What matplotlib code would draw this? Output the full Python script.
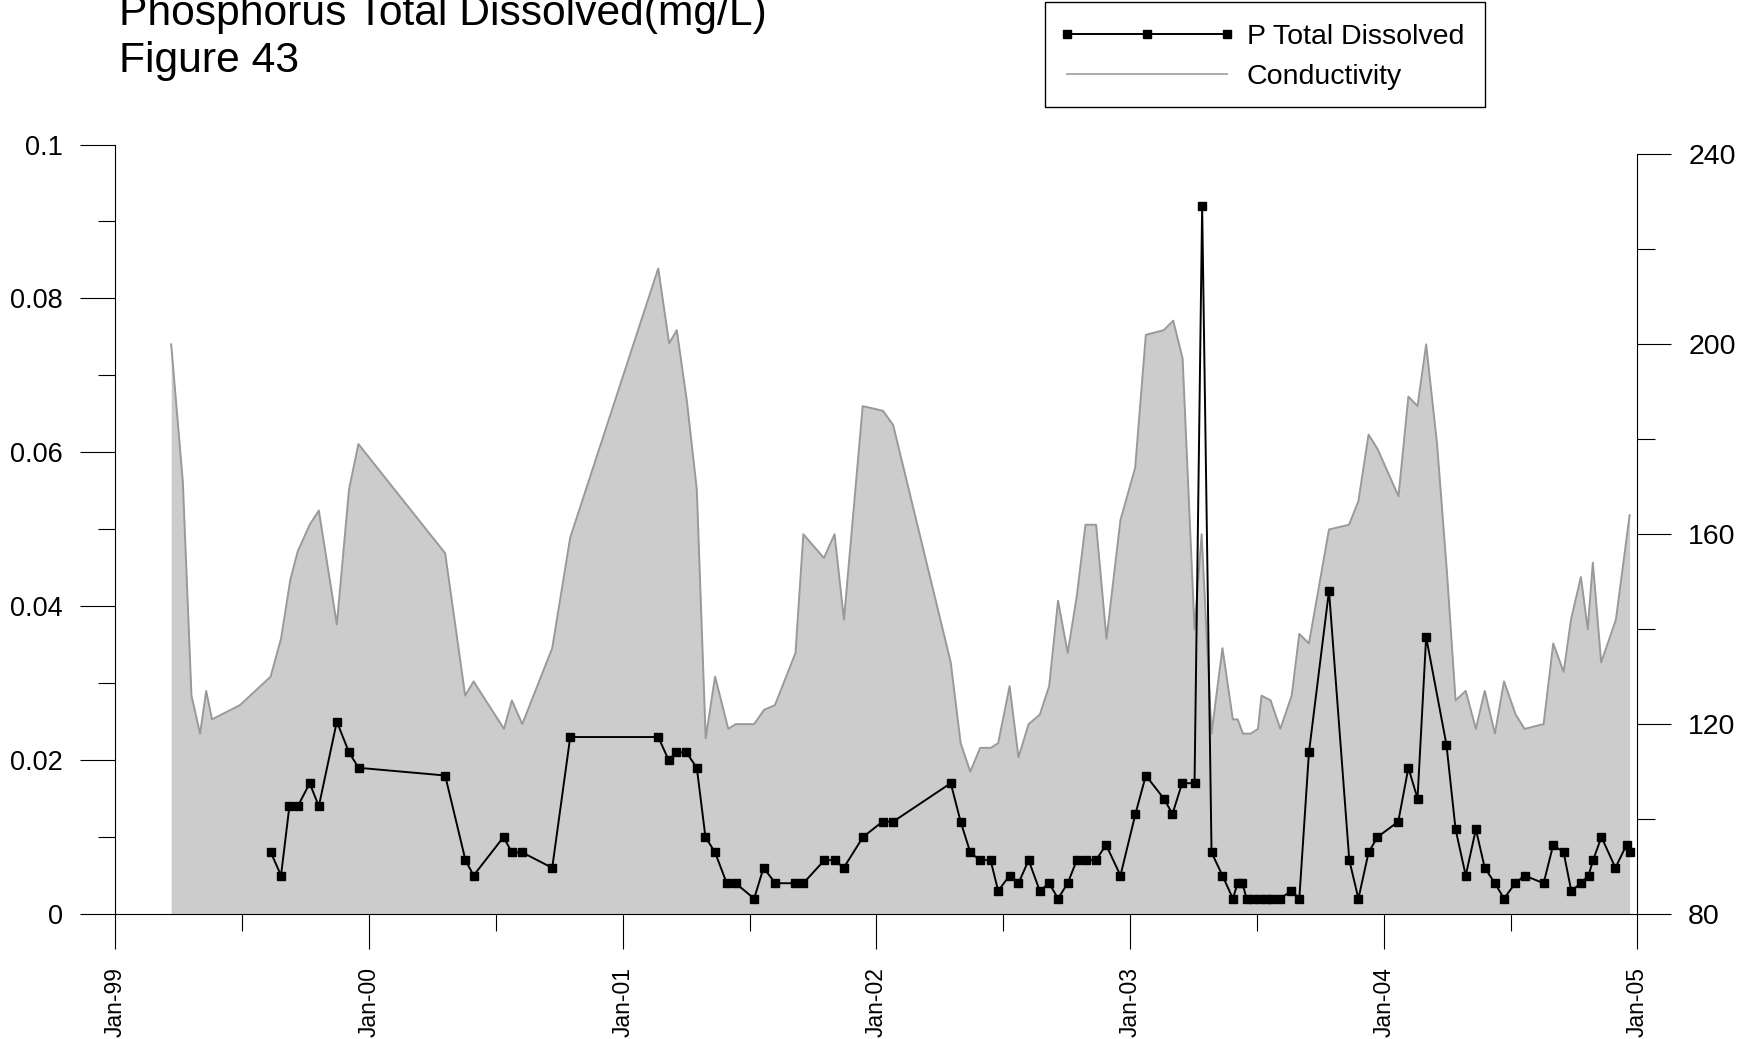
import numpy as np
import matplotlib
matplotlib.use("Agg")
import matplotlib.pyplot as plt
from matplotlib.lines import Line2D
from matplotlib.patches import Rectangle

plt.rcParams['font.family'] = ['Liberation Sans', 'DejaVu Sans']

# conductivity (right axis), dates as decimal years
cond_t = [1999.22, 1999.266, 1999.30, 1999.334, 1999.358, 1999.381, 1999.491, 1999.612,
          1999.653, 1999.69, 1999.719, 1999.766, 1999.802, 1999.873, 1999.921, 1999.958,
          2000.30, 2000.379, 2000.412, 2000.532, 2000.563, 2000.604, 2000.722, 2000.793,
          2001.14, 2001.183, 2001.213, 2001.253, 2001.292, 2001.327, 2001.364, 2001.416,
          2001.445, 2001.518, 2001.557, 2001.60, 2001.681, 2001.712, 2001.793, 2001.835,
          2001.872, 2001.946, 2002.026, 2002.066, 2002.293, 2002.332, 2002.37, 2002.409,
          2002.451, 2002.48, 2002.525, 2002.56, 2002.60, 2002.644, 2002.681, 2002.716,
          2002.754, 2002.79, 2002.824, 2002.866, 2002.907, 2002.962, 2003.02, 2003.062,
          2003.133, 2003.17, 2003.207, 2003.254, 2003.282, 2003.321, 2003.364, 2003.405,
          2003.424, 2003.445, 2003.476, 2003.504, 2003.518, 2003.554, 2003.592, 2003.637,
          2003.667, 2003.705, 2003.784, 2003.863, 2003.90, 2003.94, 2003.975, 2004.058,
          2004.097, 2004.133, 2004.167, 2004.21, 2004.249, 2004.283, 2004.323, 2004.363,
          2004.398, 2004.438, 2004.474, 2004.52, 2004.555, 2004.63, 2004.668, 2004.709,
          2004.738, 2004.777, 2004.804, 2004.824, 2004.857, 2004.915, 2004.969]
cond_v = [200, 171, 126, 118, 127, 121, 124, 130,
          138, 150.5, 156.4, 162, 165, 141, 169.4, 179,
          156, 126, 129, 119, 125, 120, 136, 159.3,
          216, 200.2, 203, 188, 169.4, 117, 130, 119,
          120, 120, 123, 124, 135, 160, 155, 160,
          142, 187, 186, 183, 133, 116, 110, 115,
          115, 116, 128, 113, 120, 122, 128, 146,
          135, 147, 162, 162, 138, 163, 174, 202,
          203, 205, 197, 140, 160, 118, 136, 121,
          121, 118, 118, 119, 126, 125, 119, 126,
          139, 137, 161, 162, 167, 181, 178, 168,
          189, 187, 200, 179, 152, 125, 127, 119,
          127, 118, 129, 122, 119, 120, 137, 131,
          142, 151, 140, 154, 133, 142, 164]

# phosphorus total dissolved (left axis)
p_t = [1999.613, 1999.653, 1999.686, 1999.719, 1999.766, 1999.802, 1999.873, 1999.921,
       1999.959, 2000.30, 2000.38, 2000.412, 2000.53, 2000.563, 2000.604, 2000.722,
       2000.793, 2001.14, 2001.181, 2001.211, 2001.251, 2001.292, 2001.326, 2001.364,
       2001.41, 2001.445, 2001.518, 2001.555, 2001.602, 2001.681, 2001.712, 2001.795,
       2001.835, 2001.871, 2001.947, 2002.024, 2002.066, 2002.293, 2002.332, 2002.37,
       2002.408, 2002.45, 2002.48, 2002.525, 2002.56, 2002.60, 2002.644, 2002.681,
       2002.716, 2002.754, 2002.79, 2002.826, 2002.866, 2002.905, 2002.962, 2003.021,
       2003.062, 2003.133, 2003.167, 2003.205, 2003.254, 2003.284, 2003.321, 2003.364,
       2003.405, 2003.424, 2003.443, 2003.459, 2003.485, 2003.512, 2003.538, 2003.558,
       2003.591, 2003.636, 2003.667, 2003.705, 2003.784, 2003.864, 2003.90, 2003.94,
       2003.975, 2004.057, 2004.097, 2004.133, 2004.167, 2004.247, 2004.283, 2004.323,
       2004.363, 2004.398, 2004.438, 2004.474, 2004.518, 2004.555, 2004.63, 2004.668,
       2004.709, 2004.739, 2004.777, 2004.807, 2004.825, 2004.858, 2004.913, 2004.957,
       2004.971]
p_v = [0.008, 0.005, 0.014, 0.014, 0.017, 0.014, 0.025, 0.021,
       0.019, 0.018, 0.007, 0.005, 0.010, 0.008, 0.008, 0.006,
       0.023, 0.023, 0.020, 0.021, 0.021, 0.019, 0.010, 0.008,
       0.004, 0.004, 0.002, 0.006, 0.004, 0.004, 0.004, 0.007,
       0.007, 0.006, 0.010, 0.012, 0.012, 0.017, 0.012, 0.008,
       0.007, 0.007, 0.003, 0.005, 0.004, 0.007, 0.003, 0.004,
       0.002, 0.004, 0.007, 0.007, 0.007, 0.009, 0.005, 0.013,
       0.018, 0.015, 0.013, 0.017, 0.017, 0.092, 0.008, 0.005,
       0.002, 0.004, 0.004, 0.002, 0.002, 0.002, 0.002, 0.002,
       0.002, 0.003, 0.002, 0.021, 0.042, 0.007, 0.002, 0.008,
       0.010, 0.012, 0.019, 0.015, 0.036, 0.022, 0.011, 0.005,
       0.011, 0.006, 0.004, 0.002, 0.004, 0.005, 0.004, 0.009,
       0.008, 0.003, 0.004, 0.005, 0.007, 0.010, 0.006, 0.009,
       0.008]

years = [1999, 2000, 2001, 2002, 2003, 2004, 2005]
year_labels = ["Jan-99", "Jan-00", "Jan-01", "Jan-02", "Jan-03", "Jan-04", "Jan-05"]
p_ticks = [0, 0.02, 0.04, 0.06, 0.08, 0.1]
p_tick_labels = ["0", "0.02", "0.04", "0.06", "0.08", "0.1"]
cond_ticks = [80, 120, 160, 200, 240]

W, H = 1756, 1039
fig = plt.figure(figsize=(W / 100, H / 100), dpi=100)
ax = fig.add_axes([0.0657, 0.1203, 0.8668, 0.7406])
ax2 = ax.twinx()

# conductivity as grey area behind
ax2.fill_between(cond_t, 80, cond_v, color='#cccccc', lw=0)
ax2.plot(cond_t, cond_v, color='#999999', lw=1.4)

ax.plot(p_t, p_v, color='black', lw=1.4, marker='s', ms=5.4)
ax.set_zorder(ax2.get_zorder() + 1)
ax.patch.set_visible(False)

ax.set_xlim(1999, 2005)
ax.set_ylim(0, 0.1)
ax2.set_ylim(80, 242.1)

ax.set_xticks(years)
ax.set_xticklabels(year_labels, rotation=90, fontsize=16.5)
ax.set_xticks(np.arange(1999.5, 2005, 1), minor=True)
ax.set_yticks(p_ticks)
ax.set_yticklabels(p_tick_labels, fontsize=19.5)
ax.set_yticks(np.arange(0.01, 0.1, 0.02), minor=True)
ax.tick_params(which='major', length=25, width=0.8, pad=13)
ax.tick_params(which='minor', length=12.5, width=0.8)

ax2.set_yticks(cond_ticks)
ax2.set_yticklabels([str(v) for v in cond_ticks], fontsize=20.5)
ax2.set_yticks([100, 140, 180, 220], minor=True)
ax2.tick_params(which='major', length=24.5, width=0.8, pad=12)
ax2.tick_params(which='minor', length=13, width=0.8)

for s in ['top', 'right']:
    ax.spines[s].set_visible(False)
for s in ['top', 'left', 'bottom']:
    ax2.spines[s].set_visible(False)
ax2.spines['right'].set_bounds(80, 240)
for sp in [ax.spines['left'], ax.spines['bottom'], ax2.spines['right']]:
    sp.set_linewidth(0.8)

fig.text(0.068, 1 - 25 / H, "Phosphorus Total Dissolved(mg/L)", fontsize=30.7, va='baseline')
fig.text(0.068, 1 - 72 / H, "Figure 43", fontsize=30.7, va='baseline')

# legend: entries without frame, box drawn separately
handles = [Line2D([], [], color='black', lw=1.4, marker='s', ms=5.4),
           Line2D([], [], color='#aaaaaa', lw=1.4)]
leg = fig.legend(handles, ["P Total Dissolved", "Conductivity"], loc='upper left',
                 bbox_to_anchor=(1058 / W, 1 - 23.5 / H), bbox_transform=fig.transFigure,
                 numpoints=3, handlelength=6.24, handletextpad=0.39, borderpad=0,
                 labelspacing=0.52, fontsize=20.5, frameon=False, borderaxespad=0)
fig.add_artist(Rectangle((1045 / W, 1 - 107 / H), 440 / W, 105 / H, transform=fig.transFigure,
                         fill=False, edgecolor='black', lw=1.0))

fig.savefig("out.png", dpi=100)
